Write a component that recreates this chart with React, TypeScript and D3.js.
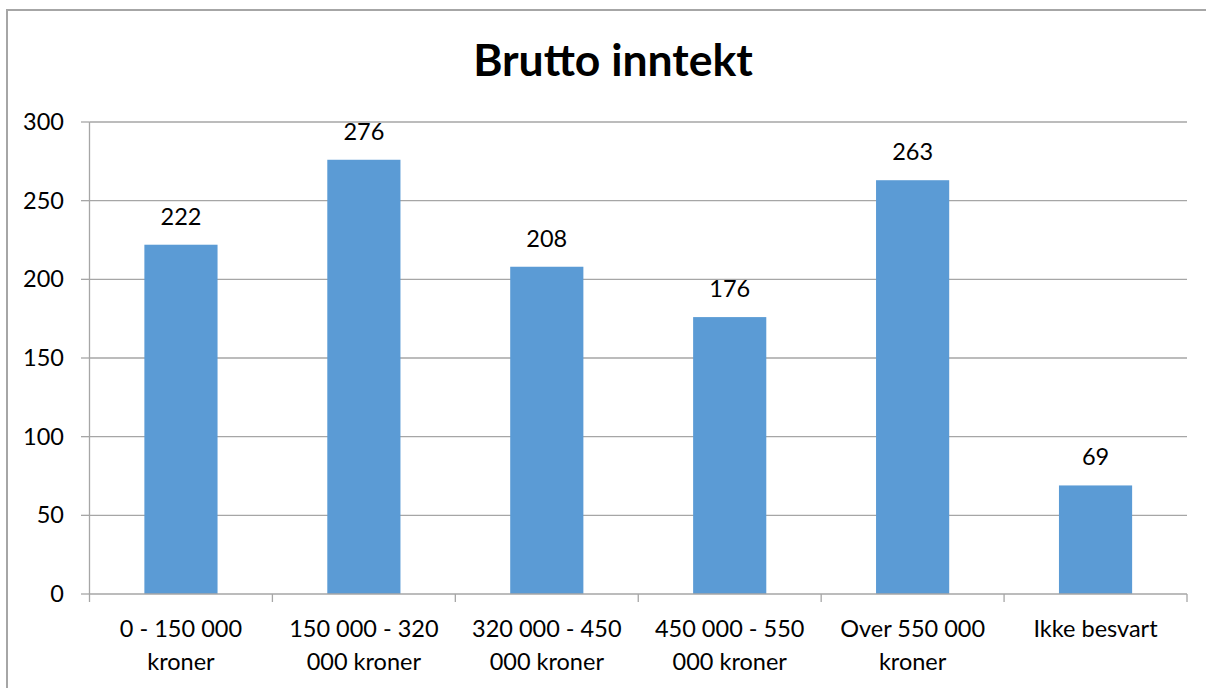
import React, { useEffect, useRef } from "react";
import * as d3 from "d3";

const categories: string[][] = [
  ["0 - 150 000", "kroner"],
  ["150 000 - 320", "000 kroner"],
  ["320 000 - 450", "000 kroner"],
  ["450 000 - 550", "000 kroner"],
  ["Over 550 000", "kroner"],
  ["Ikke besvart"],
];
const values: number[] = [222, 276, 208, 176, 263, 69];
const yTicks: number[] = [0, 50, 100, 150, 200, 250, 300];
const title = "Brutto inntekt";

const W = 1206;
const H = 688;
const FONT = "Lato, 'Open Sans', sans-serif";
const FS = 23.5;

export default function App() {
  const ref = useRef<SVGSVGElement>(null);

  useEffect(() => {
    const svg = d3.select(ref.current);
    svg.selectAll("*").remove();

    const left = 89.5, right = 1187, top = 122, bottom = 594;
    const x = d3.scaleBand<number>().domain(values.map((_, i) => i)).range([left, right]).paddingInner(0.6).paddingOuter(0.3);
    const step = (right - left) / values.length;
    const y = d3.scaleLinear().domain([0, 300]).range([bottom, top]);
    const grid = "#a6a6a6";

    // outer border
    svg.append("rect").attr("x", 7).attr("y", 10).attr("width", W + 10).attr("height", H + 10)
      .attr("fill", "white").attr("stroke", "#a6a6a6").attr("stroke-width", 2);

    // title
    svg.append("text").attr("x", 613).attr("y", 76).attr("text-anchor", "middle")
      .attr("font-family", FONT).attr("font-weight", "bold").attr("font-size", 44.5).attr("fill", "#000")
      .text(title);

    // gridlines + y ticks
    yTicks.forEach((t) => {
      if (t > 0) {
        svg.append("line").attr("x1", left).attr("x2", right).attr("y1", y(t)).attr("y2", y(t))
          .attr("stroke", grid).attr("stroke-width", 1.3);
      }
      svg.append("line").attr("x1", 81).attr("x2", left).attr("y1", y(t)).attr("y2", y(t))
        .attr("stroke", grid).attr("stroke-width", 1.3);
      svg.append("text").attr("x", 64).attr("y", y(t) + 8).attr("text-anchor", "end")
        .attr("font-family", FONT).attr("font-size", FS).attr("fill", "#000").text(String(t));
    });

    // bars
    values.forEach((v, i) => {
      svg.append("rect").attr("x", x(i)!).attr("y", y(v)).attr("width", x.bandwidth()).attr("height", y(0) - y(v))
        .attr("fill", "#5B9BD5");
      svg.append("text").attr("x", x(i)! + x.bandwidth() / 2).attr("y", y(v) - 20).attr("text-anchor", "middle")
        .attr("font-family", FONT).attr("font-size", FS).attr("fill", "#000").text(String(v));
    });

    // axes
    svg.append("line").attr("x1", left).attr("x2", left).attr("y1", top).attr("y2", bottom)
      .attr("stroke", grid).attr("stroke-width", 1.3);
    svg.append("line").attr("x1", left).attr("x2", right).attr("y1", bottom).attr("y2", bottom)
      .attr("stroke", grid).attr("stroke-width", 1.3);
    for (let i = 0; i <= values.length; i++) {
      const xx = left + i * step;
      svg.append("line").attr("x1", xx).attr("x2", xx).attr("y1", bottom).attr("y2", 602)
        .attr("stroke", grid).attr("stroke-width", 1.3);
    }

    // category labels
    categories.forEach((lines, i) => {
      const cx = x(i)! + x.bandwidth() / 2;
      const t = svg.append("text").attr("text-anchor", "middle").attr("font-family", FONT)
        .attr("font-size", FS).attr("fill", "#000");
      lines.forEach((ln, j) => {
        t.append("tspan").attr("x", cx).attr("y", 637 + j * 33).text(ln);
      });
    });
  }, []);

  return (
    <div style={{ position: "fixed", left: 0, top: 0, width: W, height: H, background: "white" }}>
      <svg ref={ref} width={W} height={H} />
    </div>
  );
}
